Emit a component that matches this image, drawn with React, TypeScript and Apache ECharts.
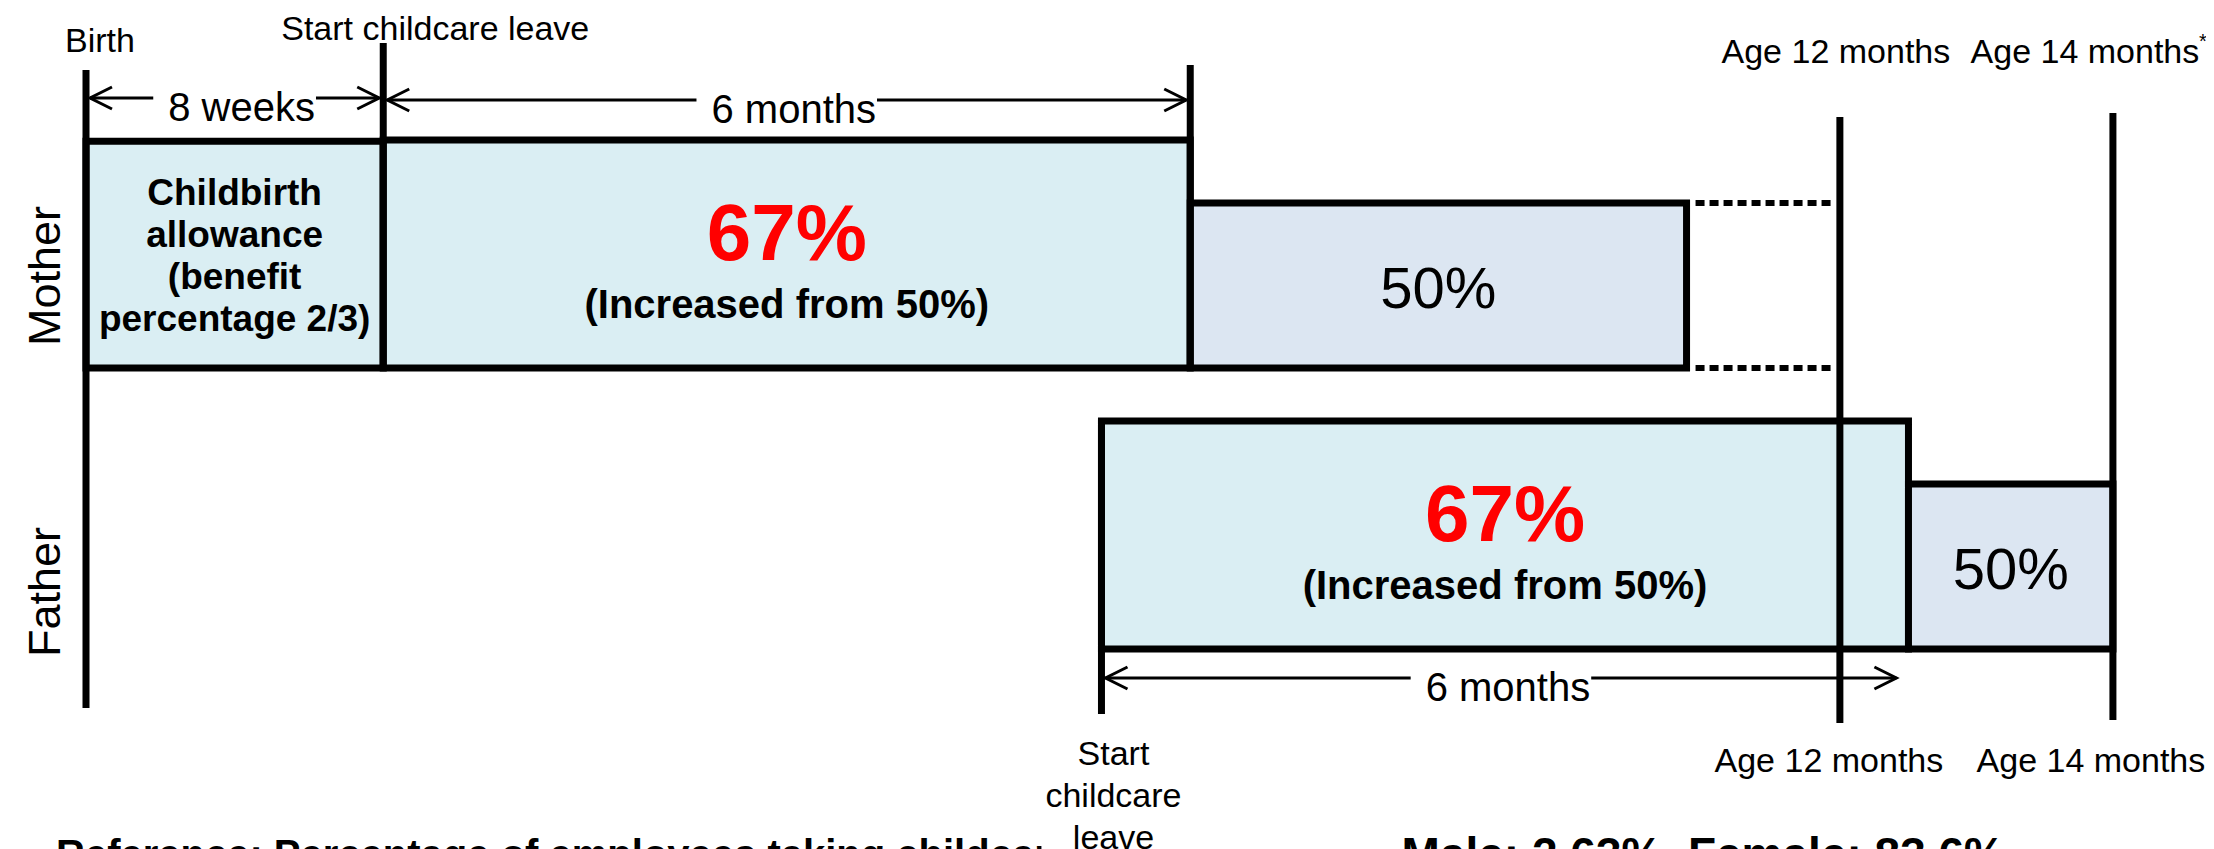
import React, { useEffect, useRef } from "react";
import * as echarts from "echarts";

const FONT = "'Liberation Sans', Arial, Helvetica, sans-serif";

// ---------------- data ----------------
const rowNames = ["Mother", "Father"];

// Schematic timeline positions (months after birth; the diagram is not drawn to scale)
const milestoneNames = [
  "Birth",
  "Start childcare leave",
  "Mother 6 months",
  "Start childcare leave (father)",
  "Age 12 months",
  "Age 14 months",
];
const milestonePos = [0, 2.21, 8.21, 7.55, 13.04, 15.07];

// Benefit boxes (height = benefit percentage)
const boxRow = [0, 0, 0, 1, 1];
const boxStart = [0, 2.21, 8.21, 7.55, 13.55];
const boxEnd = [2.21, 8.21, 11.9, 13.55, 15.07];
const boxRate = [66.7, 67, 50, 67, 50];
const boxKind = ["allowance", "raised", "base", "raised", "base"];

const allowanceLabel = "Childbirth\nallowance\n(benefit\npercentage 2/3)";
const raisedLabel = "67%";
const raisedNote = "(Increased from 50%)";
const baseLabel = "50%";

// dotted continuation of the mother's 50% box up to age 12 months
const dottedStart = [11.9];
const dottedEnd = [13.04];
const dottedRate = [50];

// span arrows
const spanStart = [0, 2.21, 7.55];
const spanEnd = [2.21, 8.21, 13.49];
const spanLabel = ["8 weeks", "6 months", "6 months"];

// milestone labels
const topLabels = ["Birth", "Start childcare leave", "Age 12 months", "Age 14 months"];
const topLabelPos = [0, 2.21, 13.04, 15.07];
const bottomLabels = ["Start\nchildcare\nleave", "Age 12 months", "Age 14 months"];
const bottomLabelPos = [7.55, 13.04, 15.07];

const footnoteLeft = "Reference: Percentage of employees taking childcare leave";
const footnoteRight = "Male: 2.63%, Female: 83.6%";

// ---------------- layout ----------------
const W = 2214;
const H = 849;
const SHIFT = 8;
const X_LEFT = 86;
const PX_PER_MONTH = 134.5;
const X_MAX = 15.5;
const Y_MIN = 5.5;
const Y_MAX = 100;
const PX_PER_PCT = 3.706;
const GRID_H = (Y_MAX - Y_MIN) * PX_PER_PCT;
const rowBaseline = [368, 649];
const milestoneTop = [70, 43, 65, 420, 117, 113];
const milestoneBottom = [708, 368, 370, 714, 723, 720];
const spanY = [98, 100, 678];
const topLabelDx = [14, 52, -4, -28];
const topLabelY = [40, 28, 51, 51];
const bottomLabelDx = [12, -11, -22];
const bottomLabelY = [795, 760, 760];
const LINE_W = 7;

const FILL_RAISED = "#DAEEF3";
const FILL_BASE = "#DCE6F2";

function txt(x: number, y: number, text: string, size: number, extra: any = {}) {
  return {
    type: "text",
    x,
    y,
    silent: true,
    style: {
      text,
      fill: "#000",
      fontFamily: FONT,
      fontSize: size,
      align: "center",
      verticalAlign: "middle",
      ...extra,
    },
  };
}

function buildOption() {
  const grids = rowBaseline.map((b) => ({
    left: X_LEFT,
    width: X_MAX * PX_PER_MONTH,
    top: b - GRID_H,
    height: GRID_H,
    show: false,
  }));
  const xAxes = rowBaseline.map((_, i) => ({
    type: "value",
    gridIndex: i,
    min: 0,
    max: X_MAX,
    show: false,
  }));
  const yAxes = rowBaseline.map((_, i) => ({
    type: "value",
    gridIndex: i,
    min: Y_MIN,
    max: Y_MAX,
    show: false,
  }));

  const boxSeries = rowNames.map((name, r) => ({
    type: "custom",
    name,
    xAxisIndex: r,
    yAxisIndex: r,
    clip: false,
    silent: true,
    z: 2,
    encode: { x: [0, 1], y: 2 },
    data: boxStart
      .map((s, i) => [s, boxEnd[i], boxRate[i], i])
      .filter((d) => boxRow[d[3]] === r),
    renderItem: (params: any, api: any) => {
      const i = api.value(3);
      const p0 = api.coord([api.value(0), api.value(2)]);
      const p1 = api.coord([api.value(1), Y_MIN]);
      const x = p0[0];
      const y = p0[1];
      const w = p1[0] - p0[0];
      const h = p1[1] - p0[1];
      const cx = x + w / 2;
      const cy = y + h / 2;
      const kind = boxKind[i];
      const children: any[] = [
        {
          type: "rect",
          shape: { x, y, width: w, height: h },
          style: {
            fill: kind === "base" ? FILL_BASE : FILL_RAISED,
            stroke: "#000",
            lineWidth: LINE_W,
          },
        },
      ];
      if (kind === "allowance") {
        children.push(txt(cx, cy + 1, allowanceLabel, 37, { fontWeight: "bold", lineHeight: 42 }));
      } else if (kind === "raised") {
        children.push(txt(cx, cy - 22, raisedLabel, 80, { fontWeight: "bold", fill: "#FF0000" }));
        children.push(txt(cx, cy + 50, raisedNote, 40, { fontWeight: "bold" }));
      } else {
        children.push(txt(cx, cy + 2, baseLabel, 58));
      }
      return { type: "group", children };
    },
  }));

  const dottedSeries = {
    type: "custom",
    name: "continuation",
    xAxisIndex: 0,
    yAxisIndex: 0,
    clip: false,
    silent: true,
    z: 2,
    encode: { x: [0, 1], y: 2 },
    data: dottedStart.map((s, i) => [s, dottedEnd[i], dottedRate[i]]),
    renderItem: (params: any, api: any) => {
      const p0 = api.coord([api.value(0), api.value(2)]);
      const p1 = api.coord([api.value(1), Y_MIN]);
      const x0 = p0[0] + 9;
      const x1 = p1[0] - 6;
      const style = { stroke: "#000", lineWidth: 6, lineDash: [9, 5] };
      return {
        type: "group",
        children: [
          { type: "line", shape: { x1: x0, y1: p0[1], x2: x1, y2: p0[1] }, style },
          { type: "line", shape: { x1: x0, y1: p1[1], x2: x1, y2: p1[1] }, style },
        ],
      };
    },
  };

  const milestoneSeries = {
    type: "custom",
    name: "milestones",
    xAxisIndex: 0,
    yAxisIndex: 0,
    clip: false,
    silent: true,
    z: 3,
    encode: { x: 0 },
    data: milestonePos.map((p, i) => [p, i]),
    renderItem: (params: any, api: any) => {
      const i = api.value(1);
      const x = api.coord([api.value(0), Y_MIN])[0];
      return {
        type: "line",
        shape: { x1: x, y1: milestoneTop[i], x2: x, y2: milestoneBottom[i] },
        style: { stroke: "#000", lineWidth: LINE_W },
      };
    },
  };

  const spanSeries = {
    type: "custom",
    name: "spans",
    xAxisIndex: 0,
    yAxisIndex: 0,
    clip: false,
    silent: true,
    z: 4,
    encode: { x: [0, 1] },
    data: spanStart.map((s, i) => [s, spanEnd[i], i]),
    renderItem: (params: any, api: any) => {
      const i = api.value(2);
      const x0 = api.coord([api.value(0), Y_MIN])[0] + 4;
      const x1 = api.coord([api.value(1), Y_MIN])[0] - 4;
      const y = spanY[i];
      const st = { stroke: "#000", lineWidth: 3, fill: null };
      return {
        type: "group",
        children: [
          { type: "line", shape: { x1: x0, y1: y, x2: x1, y2: y }, style: st },
          { type: "polyline", shape: { points: [[x0 + 22, y - 11], [x0, y], [x0 + 22, y + 11]] }, style: st },
          { type: "polyline", shape: { points: [[x1 - 22, y - 11], [x1, y], [x1 - 22, y + 11]] }, style: st },
          txt((x0 + x1) / 2, y + 9, spanLabel[i], 40, {
            backgroundColor: "#fff",
            padding: [0, 1, 0, 15],
          }),
        ],
      };
    },
  };

  const topLabelSeries = {
    type: "custom",
    name: "topLabels",
    xAxisIndex: 0,
    yAxisIndex: 0,
    clip: false,
    silent: true,
    z: 4,
    encode: { x: 0 },
    data: topLabelPos.map((p, i) => [p, i]),
    renderItem: (params: any, api: any) => {
      const i = api.value(1);
      const x = api.coord([api.value(0), Y_MIN])[0] + topLabelDx[i];
      const children: any[] = [txt(x, topLabelY[i], topLabels[i], 34)];
      if (i === topLabels.length - 1) {
        children.push(txt(x + 118, topLabelY[i] - 10, "*", 20));
      }
      return { type: "group", children };
    },
  };

  const bottomLabelSeries = {
    type: "custom",
    name: "bottomLabels",
    xAxisIndex: 1,
    yAxisIndex: 1,
    clip: false,
    silent: true,
    z: 4,
    encode: { x: 0 },
    data: bottomLabelPos.map((p, i) => [p, i]),
    renderItem: (params: any, api: any) => {
      const i = api.value(1);
      const x = api.coord([api.value(0), Y_MIN])[0] + bottomLabelDx[i];
      const extra: any = { lineHeight: 42 };
      if (i === 0) {
        extra.backgroundColor = "#fff";
        extra.padding = [0, 4, 0, 4];
      }
      return txt(x, bottomLabelY[i], bottomLabels[i], 34, extra);
    },
  };

  const rowLabelY = [276, 592];
  const graphic = [
    ...rowNames.map((n, i) => ({
      type: "text",
      x: 44,
      y: rowLabelY[i],
      rotation: Math.PI / 2,
      silent: true,
      style: {
        text: n,
        fill: "#000",
        fontFamily: FONT,
        fontSize: 45,
        align: "center",
        verticalAlign: "middle",
      },
    })),
    {
      type: "text",
      x: 56,
      y: 854,
      silent: true,
      z: 0,
      style: {
        text: footnoteLeft,
        fill: "#000",
        fontFamily: FONT,
        fontSize: 40,
        fontWeight: "bold",
        align: "left",
        verticalAlign: "middle",
      },
    },
    {
      type: "text",
      x: 2005,
      y: 854,
      silent: true,
      z: 0,
      style: {
        text: footnoteRight,
        fill: "#000",
        fontFamily: FONT,
        fontSize: 46,
        fontWeight: "bold",
        align: "right",
        verticalAlign: "middle",
      },
    },
  ];

  return {
    animation: false,
    backgroundColor: "#ffffff",
    grid: grids,
    xAxis: xAxes,
    yAxis: yAxes,
    tooltip: { show: false },
    graphic,
    series: [
      ...boxSeries,
      dottedSeries,
      milestoneSeries,
      spanSeries,
      topLabelSeries,
      bottomLabelSeries,
    ],
  };
}

export default function App() {
  const ref = useRef<HTMLDivElement>(null);
  useEffect(() => {
    if (!ref.current) return;
    const chart = echarts.init(ref.current, null, { renderer: "svg", width: W, height: H });
    chart.setOption(buildOption() as any);
    return () => {
      chart.dispose();
    };
  }, []);
  return (
    <div
      ref={ref}
      style={{
        position: "fixed",
        left: -SHIFT,
        top: -SHIFT,
        width: W,
        height: H,
        background: "#fff",
      }}
    />
  );
}
